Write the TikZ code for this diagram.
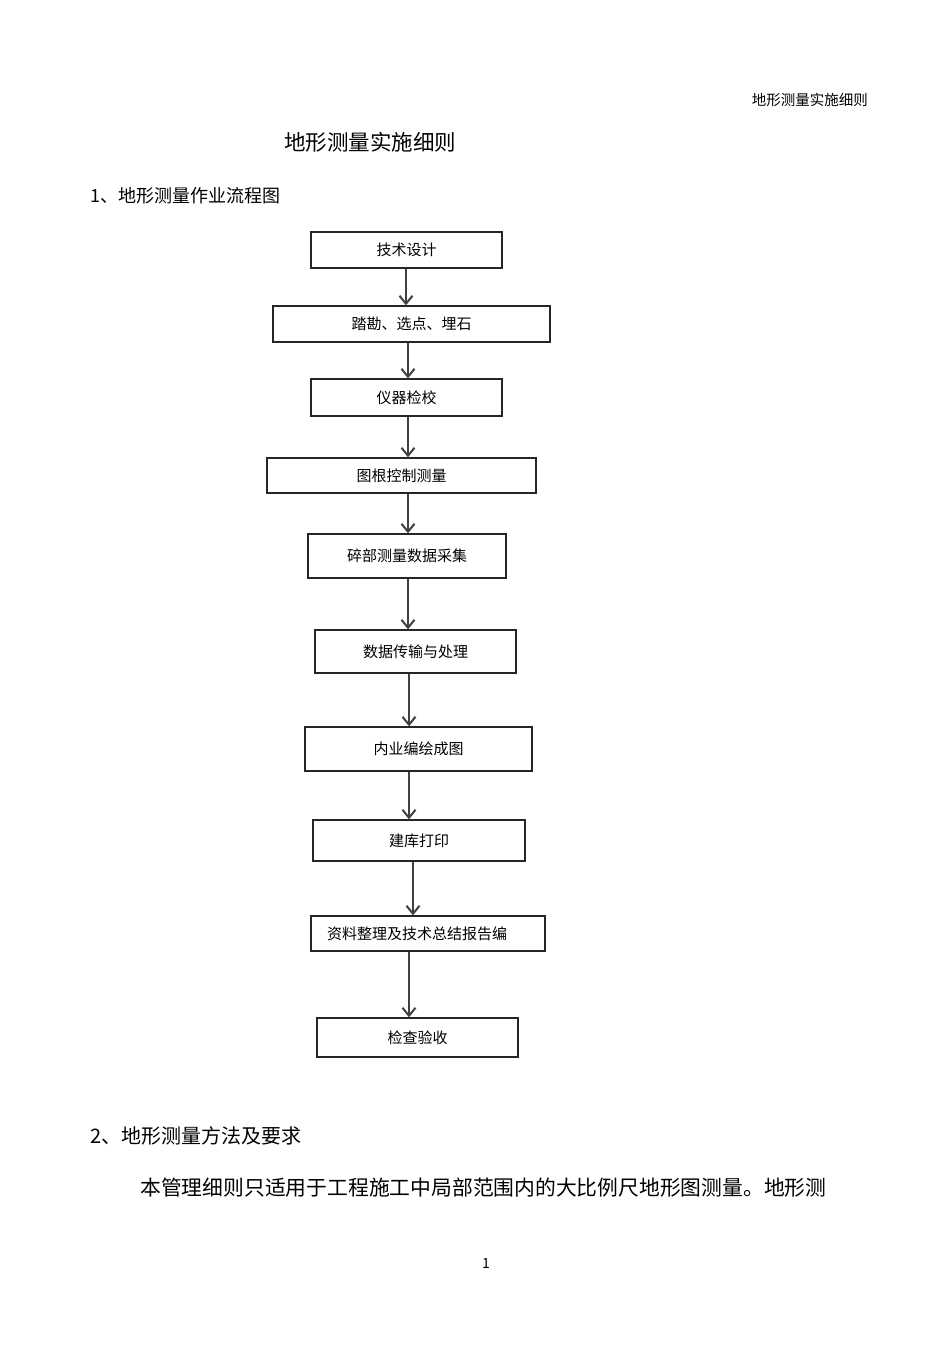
\documentclass[tikz,border=0pt]{standalone}
\usepackage{fontspec}
\setmainfont{Noto Sans CJK SC}
\usetikzlibrary{arrows.meta}

\tikzset{
  stepbox/.style={draw=black!85, line width=1.3pt, inner sep=0pt,
    font=\fontsize{15}{18}\selectfont},
  flow/.style={draw=black!75, line width=2pt,
    -{Straight Barb[length=8pt,width=13pt,line width=2pt]}},
  plain/.style={inner sep=0pt, anchor=west}
}

\begin{document}
\begin{tikzpicture}[x=1pt, y=-1pt]
        \useasboundingbox (0,0) rectangle (950,1345);
        % page text
        \node[plain, anchor=east, font=\fontsize{14.5}{17}\selectfont] (header) at (868,100) {地形测量实施细则};
        \node[inner sep=0pt, font=\fontsize{21.5}{25}\selectfont] (title) at (370,142) {地形测量实施细则};
        \node[plain, font=\fontsize{18}{21}\selectfont] (sec1) at (90,196) {1、地形测量作业流程图};
        \node[plain, font=\fontsize{20}{24}\selectfont] (sec2) at (90,1136) {2、地形测量方法及要求};
        \node[plain, font=\fontsize{20.8}{25}\selectfont] (body) at (140,1188) {本管理细则只适用于工程施工中局部范围内的大比例尺地形图测量。地形测};
        \node[inner sep=0pt, font=\fontsize{14}{17}\selectfont] (pageno) at (486,1263) {1};

        % flow chart boxes
        \node[stepbox, minimum width=191, minimum height=36] (design) at (406.5,250) {技术设计};
        \node[stepbox, minimum width=277, minimum height=36] (survey) at (411.5,324) {踏勘、选点、埋石};
        \node[stepbox, minimum width=191, minimum height=37] (calib) at (406.5,397.5) {仪器检校};
        \node[stepbox, minimum width=269, minimum height=35] (control) at (401.5,475.5) {图根控制测量};
        \node[stepbox, minimum width=198, minimum height=44] (detail) at (407,556) {碎部测量数据采集};
        \node[stepbox, minimum width=201, minimum height=43] (transfer) at (415.5,651.5) {数据传输与处理};
        \node[stepbox, minimum width=227, minimum height=44] (drafting) at (418.5,749) {内业编绘成图};
        \node[stepbox, minimum width=212, minimum height=41] (printing) at (419,840.5) {建库打印};
        \node[stepbox, minimum width=234, minimum height=35] (report) at (428,933.5) {\hspace*{-22pt}资料整理及技术总结报告编};
        \node[stepbox, minimum width=201, minimum height=39] (accept) at (417.5,1037.5) {检查验收};

        % arrows
        \draw[flow] (design.south -| 406,0) -- (survey.north -| 406,0);
        \draw[flow] (survey.south -| 408,0) -- (calib.north -| 408,0);
        \draw[flow] (calib.south -| 408,0) -- (control.north -| 408,0);
        \draw[flow] (control.south -| 408,0) -- (detail.north -| 408,0);
        \draw[flow] (detail.south -| 408,0) -- (transfer.north -| 408,0);
        \draw[flow] (transfer.south -| 409,0) -- (drafting.north -| 409,0);
        \draw[flow] (drafting.south -| 409,0) -- (printing.north -| 409,0);
        \draw[flow] (printing.south -| 413,0) -- (report.north -| 413,0);
        \draw[flow] (report.south -| 409,0) -- (accept.north -| 409,0);
\end{tikzpicture}
\end{document}
